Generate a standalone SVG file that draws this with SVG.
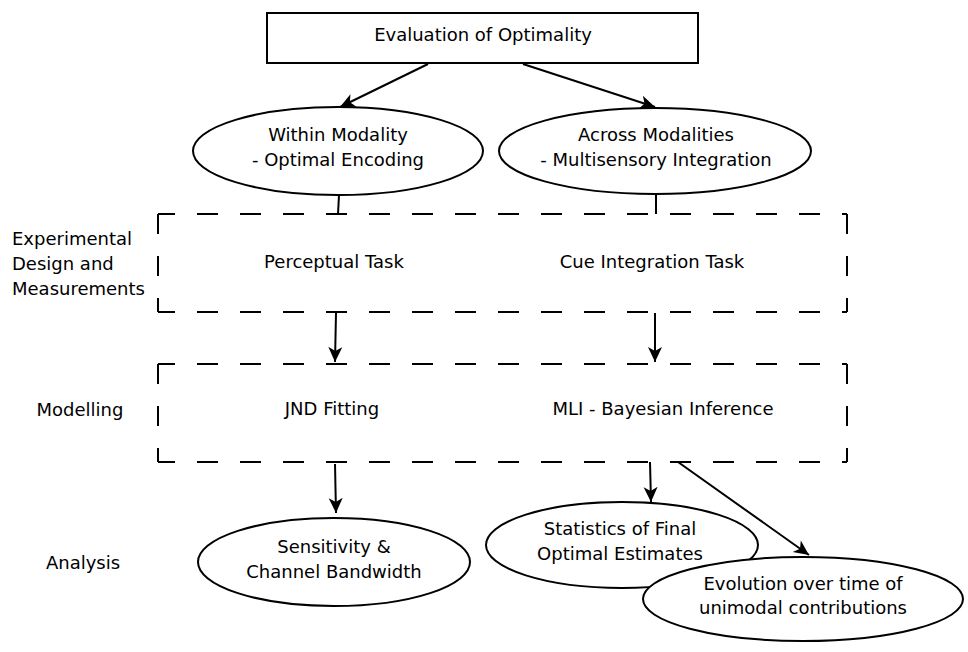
<svg xmlns="http://www.w3.org/2000/svg" width="968" height="652" viewBox="0 0 968 652">
<style>
  .t { font-family: "DejaVu Sans", "Liberation Sans", sans-serif; font-size: 18px; fill: #000; text-anchor: middle; }
  .l { font-family: "DejaVu Sans", "Liberation Sans", sans-serif; font-size: 18px; fill: #000; }
  .shape { fill: #fff; stroke: #000; stroke-width: 2; }
  .dh { stroke: #000; stroke-width: 2; fill: none; stroke-dasharray: 21 22; stroke-dashoffset: 4; }
  .dv { stroke: #000; stroke-width: 2; fill: none; stroke-dasharray: 20 22; }
  .c { stroke: #000; stroke-width: 2; fill: none; }
  .a { stroke: #000; stroke-width: 2; fill: none; marker-end: url(#arr); }
</style>
<defs>
  <marker id="arr" viewBox="-16 -8 17 16" refX="0" refY="0" markerWidth="17" markerHeight="16" markerUnits="userSpaceOnUse" orient="auto">
    <path d="M0,0 L-15,-7 L-11,0 L-15,7 Z" fill="#000"/>
  </marker>
</defs>
<rect width="968" height="652" fill="#fff"/>

<g id="labels">
  <text class="l" x="12" y="245">Experimental</text>
  <text class="l" x="12" y="270">Design and</text>
  <text class="l" x="12" y="295">Measurements</text>
  <text class="t" x="80" y="416">Modelling</text>
  <text class="t" x="83" y="569">Analysis</text>
</g>

<g id="connectors">
  <line class="a" x1="428" y1="64" x2="340" y2="107"/>
  <line class="a" x1="523" y1="64" x2="655" y2="107"/>
  <line class="c" x1="339" y1="195" x2="338" y2="214"/>
  <line class="c" x1="656" y1="194" x2="656" y2="214"/>
  <line class="a" x1="336" y1="313" x2="335" y2="362"/>
  <line class="a" x1="655" y1="313" x2="655" y2="362"/>
  <line class="a" x1="335" y1="464" x2="336" y2="513"/>
  <line class="a" x1="650" y1="462" x2="651" y2="502"/>
  <line class="a" x1="678" y1="462" x2="809" y2="555"/>
</g>

<g id="top">
  <rect class="shape" x="267" y="13" width="431" height="50"/>
  <text class="t" x="483" y="41">Evaluation of Optimality</text>
</g>

<g id="within">
  <ellipse class="shape" cx="338" cy="151" rx="145" ry="44"/>
  <text class="t" x="338" y="141">Within Modality</text>
  <text class="t" x="338" y="166">- Optimal Encoding</text>
</g>

<g id="across">
  <ellipse class="shape" cx="655" cy="151" rx="156" ry="43"/>
  <text class="t" x="656" y="141">Across Modalities</text>
  <text class="t" x="656" y="166">- Multisensory Integration</text>
</g>

<g id="experimental">
  <line class="dh" x1="158" y1="214" x2="847" y2="214"/>
  <line class="dh" x1="158" y1="312" x2="847" y2="312"/>
  <line class="dv" x1="158" y1="214" x2="158" y2="312"/>
  <line class="dv" x1="847" y1="214" x2="847" y2="312"/>
  <text class="t" x="334" y="268">Perceptual Task</text>
  <text class="t" x="652" y="268">Cue Integration Task</text>
</g>

<g id="modelling">
  <line class="dh" x1="158" y1="364" x2="847" y2="364"/>
  <line class="dh" x1="158" y1="462" x2="847" y2="462"/>
  <line class="dv" x1="158" y1="364" x2="158" y2="462"/>
  <line class="dv" x1="847" y1="364" x2="847" y2="462"/>
  <text class="t" x="332" y="415">JND Fitting</text>
  <text class="t" x="663" y="415">MLI - Bayesian Inference</text>
</g>

<g id="sensitivity">
  <ellipse class="shape" cx="334" cy="562" rx="136" ry="44"/>
  <text class="t" x="334" y="553">Sensitivity &amp;</text>
  <text class="t" x="334" y="578">Channel Bandwidth</text>
</g>

<g id="statistics">
  <ellipse class="shape" cx="622" cy="545" rx="136" ry="43"/>
  <text class="t" x="620" y="535">Statistics of Final</text>
  <text class="t" x="620" y="560">Optimal Estimates</text>
</g>

<g id="evolution">
  <ellipse class="shape" cx="803" cy="599" rx="160" ry="42"/>
  <text class="t" x="803" y="590">Evolution over time of</text>
  <text class="t" x="803" y="614">unimodal contributions</text>
</g>
</svg>
